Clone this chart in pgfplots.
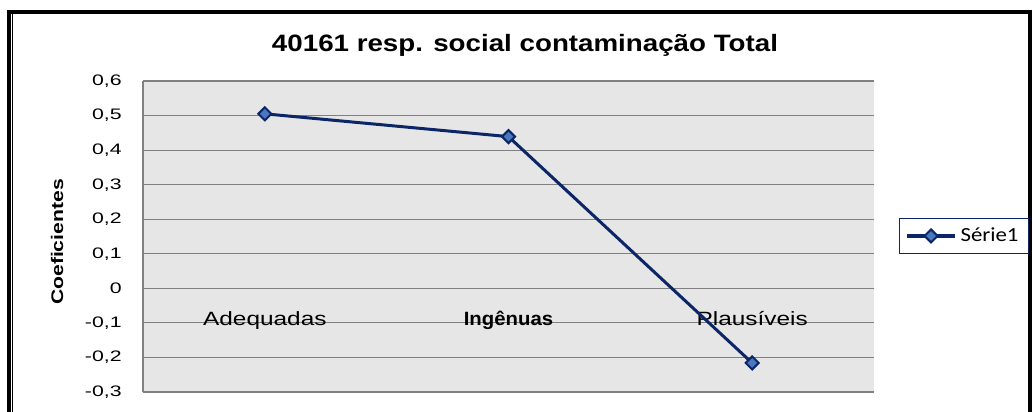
\documentclass[border=0pt]{standalone}
\usepackage{pgfplots}
\pgfplotsset{compat=1.18}
\usepackage{pgfplotstable}
\usepackage{fontspec}
\setmainfont{Liberation Sans}
\newfontfamily\titlefont[FakeStretch=1.17]{Liberation Sans}
\newfontfamily\tickfont[FakeStretch=1.4]{Liberation Sans}
\newfontfamily\catfont[FakeStretch=1.27]{Liberation Sans}
\newfontfamily\catboldfont[FakeStretch=1.06]{Liberation Sans}
\newfontfamily\ylabfont[FakeStretch=1.26]{Liberation Sans}
\newfontfamily\legfont[FakeStretch=1.14]{Carlito}
\definecolor{plotbg}{HTML}{E6E6E6}
\definecolor{gridgray}{HTML}{808080}
\definecolor{navy}{HTML}{0B2566}
\definecolor{markfill}{HTML}{4A78BE}

\pgfplotstableread{
x y
0 0.505
1 0.439
2 -0.216
}\datatable

\begin{document}
\begin{tikzpicture}
\useasboundingbox (0,0) rectangle (516.5pt,206pt);
\fill[white] (0,0) rectangle (516.5pt,206pt);
% outer frame
\draw[black, line width=2pt] (4.5pt,-5pt) -- (4.5pt,200pt) -- (515.2pt,200pt) -- (515.2pt,-5pt);
\draw[black, line width=0.6pt] (6.4pt,-5pt) -- (6.4pt,199pt);
% title
\node[font=\titlefont\bfseries\fontsize{11.85}{14}\selectfont] at (262.5pt,183.5pt) {40161 resp. social contaminação Total};
% y label
\node[rotate=90, font=\ylabfont\bfseries\fontsize{8.4}{10}\selectfont] at (28.5pt,85pt) {Coeficientes};
\begin{axis}[
  at={(71.5pt,10pt)}, anchor=south west,
  scale only axis, width=365.5pt, height=155.5pt,
  xmin=-0.5, xmax=2.5, ymin=-0.3, ymax=0.6,
  axis background/.style={fill=plotbg},
  axis x line*=bottom, axis y line*=left,
  axis line style={draw=gridgray, line width=0.6pt, -},
  major tick length=0pt,
  ymajorgrids, grid style={draw=gridgray, line width=0.6pt},
  ytick={-0.3,-0.2,-0.1,0,0.1,0.2,0.3,0.4,0.5,0.6},
  yticklabels={{-0,3},{-0,2},{-0,1},{0},{0,1},{0,2},{0,3},{0,4},{0,5},{0,6}},
  yticklabel style={font=\tickfont\fontsize{7.6}{9}\selectfont, inner sep=0pt, anchor=east, xshift=-10.5pt},
  xtick={0,1,2},
  xticklabels={{\catfont Adequadas},{\catboldfont\bfseries Ingênuas},{\catfont Plausíveis}},
  xticklabel style={font=\fontsize{9.6}{11}\selectfont, inner sep=0pt, anchor=base, yshift=33.5pt},
  legend style={at={(1.0342,0.5595)}, anchor=north west, draw=navy, line width=0.6pt,
    fill=white, font=\legfont\fontsize{10}{12}\selectfont, inner xsep=3pt, inner ysep=2.5pt},
  legend image code/.code={
    \draw[line width=1.6pt, mark repeat=2, mark phase=2,
      mark options={rotate=45, fill=markfill, draw=navy, line width=1pt}]
      plot coordinates {(0cm,0cm) (0.42cm,0cm) (0.84cm,0cm)};
  },
  clip=false,
]
\addplot[navy, line width=1.5pt, mark=square*, mark size=2.3pt,
  mark options={rotate=45, fill=markfill, draw=navy, line width=1pt}]
  table[x=x, y=y] {\datatable};
\addlegendentry{Série1}
\end{axis}
\end{tikzpicture}
\end{document}
